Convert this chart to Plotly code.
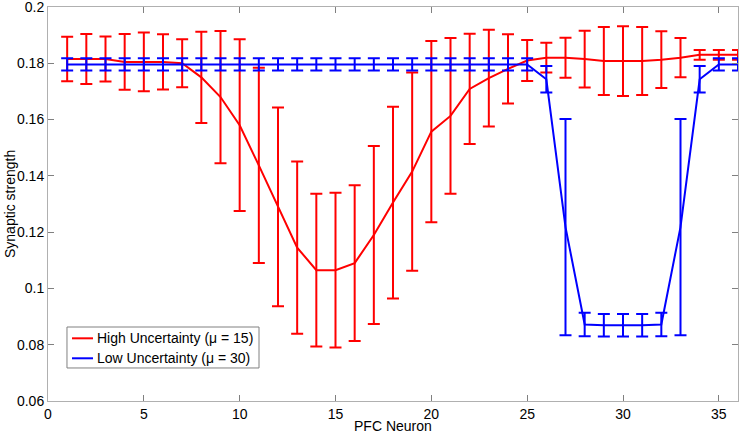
import plotly.graph_objects as go

# PFC neuron index
neuron = list(range(1, 37))

# high uncertainty (mu = 15): mean and error half-width
high_mean = [0.1815, 0.1815, 0.1815, 0.1805, 0.1805, 0.1805, 0.1800, 0.1750,
             0.1680, 0.1580, 0.1437, 0.1290, 0.1145, 0.1065, 0.1065, 0.1090,
             0.1190, 0.1305, 0.1415, 0.1557, 0.1613, 0.1709, 0.1747, 0.1780,
             0.1810, 0.1820, 0.1820, 0.1815, 0.1808, 0.1808, 0.1808, 0.1813,
             0.1820, 0.1830, 0.1830, 0.1830]
high_err = [0.0079, 0.0089, 0.0080, 0.0099, 0.0104, 0.0098, 0.0085, 0.0162,
            0.0235, 0.0305, 0.0347, 0.0353, 0.0306, 0.0271, 0.0275, 0.0277,
            0.0316, 0.0341, 0.0352, 0.0322, 0.0277, 0.0196, 0.0172, 0.0123,
            0.0073, 0.0053, 0.0071, 0.0101, 0.0121, 0.0124, 0.0121, 0.0101,
            0.0070, 0.0017, 0.0017, 0.0017]

# low uncertainty (mu = 30)
low_mean = [0.1796] * 25 + [0.1743, 0.1218, 0.0872, 0.0869, 0.0869, 0.0869,
                            0.0872, 0.1218, 0.1743, 0.1796, 0.1796]
low_err = [0.0022] * 25 + [0.0047, 0.0384, 0.0042, 0.0040, 0.0040, 0.0040,
                           0.0042, 0.0384, 0.0047, 0.0022, 0.0022]

names = ['High Uncertainty (\u03bc = 15)', 'Low Uncertainty (\u03bc = 30)']
colors = ['#ff0000', '#0000ff']

font = dict(family='Liberation Sans, Arial, sans-serif', size=14, color='black')

data = [go.Scatter(x=neuron, y=high_mean, mode='lines', name=names[0],
                   line=dict(color=colors[0], width=2),
                   error_y=dict(type='data', array=high_err, visible=True,
                                color=colors[0], thickness=2, width=6)),
        go.Scatter(x=neuron, y=low_mean, mode='lines', name=names[1],
                   line=dict(color=colors[1], width=2),
                   error_y=dict(type='data', array=low_err, visible=True,
                                color=colors[1], thickness=2, width=6))]

axis_style = dict(showgrid=False, zeroline=False, showline=True, mirror='ticks',
                  linecolor='#b0b0b0', linewidth=1, ticks='inside', ticklen=6,
                  tickcolor='#808080', tickfont=font, automargin=False,
                  ticklabeloverflow='allow')

# hand-drawn legend box in the lower left (matlab style)
shapes = [dict(type='rect', xref='paper', yref='paper',
               x0=0.0275, x1=0.3058, y0=0.0838, y1=0.1878,
               line=dict(color='#808080', width=1), fillcolor='white', layer='above')]
annotations = [
    dict(text='PFC Neuron', xref='paper', yref='paper', x=0.5, y=0,
         yshift=-25, showarrow=False, font=font, yanchor='middle'),
    dict(text='Synaptic strength', xref='paper', yref='paper', x=0, y=0.5,
         xshift=-38, showarrow=False, font=font, textangle=-90,
         xanchor='center', yanchor='middle'),
]
for i, ly in enumerate([0.1591, 0.1084]):
    shapes.append(dict(type='line', xref='paper', yref='paper',
                       x0=0.0348, x1=0.0652, y0=ly, y1=ly,
                       line=dict(color=colors[i], width=2), layer='above'))
    annotations.append(dict(text=names[i], xref='paper', yref='paper',
                            x=0.0681, y=ly, xanchor='left', yanchor='middle',
                            showarrow=False, font=font))

layout = go.Layout(
    width=741, height=433,
    margin=dict(l=48, r=3, t=7, b=32),
    paper_bgcolor='white', plot_bgcolor='white',
    font=font,
    xaxis=dict(range=[0, 36], tickvals=[0, 5, 10, 15, 20, 25, 30, 35], **axis_style),
    yaxis=dict(range=[0.06, 0.2], tickvals=[0.06, 0.08, 0.1, 0.12, 0.14, 0.16, 0.18, 0.2],
               ticktext=['0.06', '0.08', '0.1', '0.12', '0.14', '0.16', '0.18', '0.2'],
               **axis_style),
    showlegend=False,
    shapes=shapes,
    annotations=annotations,
)

fig = go.Figure(data=data, layout=layout)
# drop the default page margin so the figure sits at the window's corner
fig.write_html('out.html', config={'displayModeBar': False},
               post_script="document.body.style.margin='0';"
                           "document.body.style.overflow='hidden';")
